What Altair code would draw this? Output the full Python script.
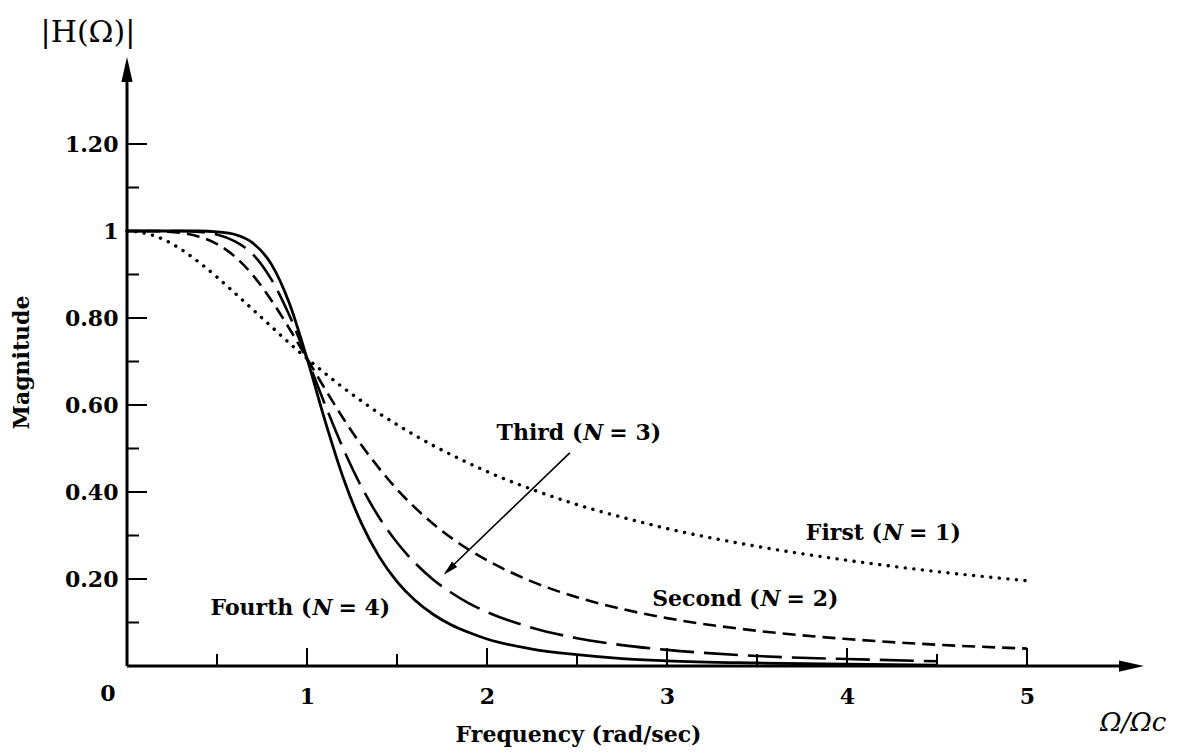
import altair as alt
import pandas as pd

# ---- data ----
freq = [0, 0.1, 0.2, 0.3, 0.4, 0.5, 0.6, 0.7, 0.8, 0.9, 1.0, 1.1, 1.2, 1.3, 1.4,
        1.5, 1.6, 1.7, 1.8, 1.9, 2.0, 2.25, 2.5, 2.75, 3.0, 3.5, 4.0, 4.5, 5.0]

mag_first = [1.000, 0.995, 0.981, 0.958, 0.928, 0.894, 0.857, 0.819, 0.781, 0.743, 0.707, 0.673, 0.640,
             0.610, 0.581, 0.555, 0.530, 0.507, 0.486, 0.466, 0.447, 0.406, 0.371, 0.342, 0.316, 0.275,
             0.243, 0.217, 0.196]
mag_second = [1.000, 1.000, 0.999, 0.996, 0.987, 0.970, 0.941, 0.898, 0.842, 0.777, 0.707, 0.637, 0.570,
              0.509, 0.455, 0.406, 0.364, 0.327, 0.295, 0.267, 0.243, 0.194, 0.158, 0.131, 0.110, 0.081,
              0.062, 0.049, 0.040]
mag_third = [1.000, 1.000, 1.000, 1.000, 0.998, 0.992, 0.976, 0.946, 0.890, 0.808, 0.707, 0.601, 0.501,
             0.414, 0.342, 0.284, 0.237, 0.199, 0.169, 0.144, 0.124, 0.088, 0.064, 0.048, 0.037, 0.023,
             0.016, 0.011]
mag_fourth = [1.000, 1.000, 1.000, 1.000, 1.000, 0.998, 0.992, 0.972, 0.925, 0.836, 0.707, 0.564, 0.434,
              0.330, 0.252, 0.194, 0.151, 0.119, 0.095, 0.077, 0.062, 0.039, 0.026, 0.017, 0.012, 0.007,
              0.004, 0.002]

x_label_values = [1, 2, 3, 4, 5]
y_label_values = [0.2, 0.4, 0.6, 0.8, 1.0, 1.2]
x_major_ticks = [1, 2, 3, 4, 5]
x_minor_ticks = [0.5, 1.5, 2.5, 3.5, 4.5]
y_major_ticks = [0.2, 0.4, 0.6, 0.8, 1.0, 1.2]
y_minor_ticks = [0.1, 0.3, 0.5, 0.7, 0.9, 1.1]

label_prefix = ["Third (", "First (", "Second (", "Fourth ("]
label_var = ["N", "N", "N", "N"]
label_suffix = ["= 3)", "= 1)", "= 2)", "= 4)"]
label_x = [2.535, 4.20, 3.52, 1.03]
label_y = [0.535, 0.306, 0.155, 0.133]

# ---- styling ----
SERIF = "DejaVu Serif"
FS = 22

xs = alt.Scale(domain=[0, 5.65], nice=False, zero=False)
ys = alt.Scale(domain=[0, 1.40], nice=False, zero=False)

xaxis = alt.Axis(values=x_label_values, domain=False, ticks=False, tickSize=0, grid=False,
                 labelFont=SERIF, labelFontSize=FS, labelFontWeight="bold", labelColor="black",
                 labelPadding=20, labelFlush=False, labelOverlap=False,
                 title="Frequency (rad/sec)", titleFont=SERIF, titleFontSize=FS,
                 titleFontWeight="bold", titleColor="black", titleX=451, titleY=75,
                 titleAlign="center", titleBaseline="alphabetic")
yaxis = alt.Axis(values=y_label_values, domain=False, ticks=False, tickSize=0, grid=False,
                 labelExpr="datum.value == 1 ? '1' : format(datum.value, '.2f')",
                 labelFont=SERIF, labelFontSize=FS, labelFontWeight="bold", labelColor="black",
                 labelPadding=9, labelFlush=False, labelOverlap=False,
                 title="Magnitude", titleFont=SERIF, titleFontSize=FS, titleFontWeight="bold",
                 titleColor="black", titleX=-106, titleY=305, titleAngle=270,
                 titleAlign="center", titleBaseline="middle")


def X(f="x"):
    return alt.X(f"{f}:Q", scale=xs, axis=xaxis)


def Y(f="y"):
    return alt.Y(f"{f}:Q", scale=ys, axis=yaxis)


layers = []


def curve(mags, **mk):
    df = pd.DataFrame({"x": freq[:len(mags)], "y": mags})
    return alt.Chart(df).mark_line(interpolate="monotone", color="black", **mk).encode(x=X(), y=Y())


layers.append(curve(mag_first, strokeDash=[0.1, 8.5], strokeCap="round", strokeWidth=3.4))
layers.append(curve(mag_second, strokeDash=[13, 7], strokeWidth=2.6))
layers.append(curve(mag_third, strokeDash=[34, 10], strokeWidth=2.6))
layers.append(curve(mag_fourth, strokeWidth=2.8))

# axis lines
layers.append(alt.Chart(pd.DataFrame({"x": [0], "y": [0], "y2": [1.36]}))
              .mark_rule(color="black", strokeWidth=3)
              .encode(x=X(), y=Y(), y2=alt.Y2("y2")))
layers.append(alt.Chart(pd.DataFrame({"x": [0], "x2": [5.52], "y": [0]}))
              .mark_rule(color="black", strokeWidth=3)
              .encode(x=X(), x2=alt.X2("x2"), y=Y()))

# inward ticks
layers.append(alt.Chart(pd.DataFrame({"x": [0] * len(y_major_ticks), "y": y_major_ticks}))
              .mark_tick(orient="horizontal", size=20, thickness=2, xOffset=10, color="black", opacity=1)
              .encode(x=X(), y=Y()))
layers.append(alt.Chart(pd.DataFrame({"x": [0] * len(y_minor_ticks), "y": y_minor_ticks}))
              .mark_tick(orient="horizontal", size=12, thickness=2, xOffset=6, color="black", opacity=1)
              .encode(x=X(), y=Y()))
layers.append(alt.Chart(pd.DataFrame({"x": x_major_ticks, "y": [0] * len(x_major_ticks)}))
              .mark_tick(orient="vertical", size=18, thickness=2, yOffset=-9, color="black", opacity=1)
              .encode(x=X(), y=Y()))
layers.append(alt.Chart(pd.DataFrame({"x": x_minor_ticks, "y": [0] * len(x_minor_ticks)}))
              .mark_tick(orient="vertical", size=12, thickness=2, yOffset=-6, color="black", opacity=1)
              .encode(x=X(), y=Y()))

# axis arrowheads
layers.append(alt.Chart(pd.DataFrame({"x": [0], "y": [1.40]}))
              .mark_point(shape="M0,0L0.45,2L-0.45,2Z", size=625, filled=True, color="black",
                          opacity=1, strokeWidth=0)
              .encode(x=X(), y=Y()))
layers.append(alt.Chart(pd.DataFrame({"x": [5.65], "y": [0]}))
              .mark_point(shape="M0,0L-2,0.45L-2,-0.45Z", size=625, filled=True, color="black",
                          opacity=1, strokeWidth=0)
              .encode(x=X(), y=Y()))

# annotation arrow for N = 3
layers.append(alt.Chart(pd.DataFrame({"x": [2.46], "y": [0.49], "x2": [1.77], "y2": [0.215]}))
              .mark_rule(color="black", strokeWidth=1.6)
              .encode(x=X(), y=Y(), x2=alt.X2("x2"), y2=alt.Y2("y2")))
layers.append(alt.Chart(pd.DataFrame({"x": [1.76], "y": [0.21]}))
              .mark_point(shape="M0,0L0.5,2L-0.5,2Z", size=225, filled=True, color="black",
                          opacity=1, strokeWidth=0, angle=226)
              .encode(x=X(), y=Y()))

# curve labels: "Name (" + italic N + "= k)"
lab = pd.DataFrame({"x": label_x, "y": label_y, "p": label_prefix, "n": label_var, "s": label_suffix})
txt = dict(font=SERIF, fontSize=FS, fontWeight="bold", color="black", baseline="middle")
layers.append(alt.Chart(lab).mark_text(align="right", dx=-1, **txt).encode(x=X(), y=Y(), text="p:N"))
layers.append(alt.Chart(lab).mark_text(align="left", dx=0, fontStyle="italic", **txt)
              .encode(x=X(), y=Y(), text="n:N"))
layers.append(alt.Chart(lab).mark_text(align="left", dx=26, **txt).encode(x=X(), y=Y(), text="s:N"))

# origin "0"
layers.append(alt.Chart(pd.DataFrame({"x": [0], "y": [0], "t": ["0"]}))
              .mark_text(font=SERIF, fontSize=FS, fontWeight="bold", color="black",
                         align="center", baseline="middle", dx=-19, dy=28)
              .encode(x=X(), y=Y(), text="t:N"))

# |H(Ω)| and Ω/Ωc
layers.append(alt.Chart(pd.DataFrame({"x": [-0.217], "y": [1.455], "t": ["|H(Ω)|"]}))
              .mark_text(font=SERIF, fontSize=30, color="black", align="center", baseline="middle")
              .encode(x=X(), y=Y(), text="t:N"))
layers.append(alt.Chart(pd.DataFrame({"x": [5.59], "y": [-0.13], "t": ["Ω/Ωc"]}))
              .mark_text(font=SERIF, fontSize=26, fontStyle="italic", color="black",
                         align="center", baseline="middle")
              .encode(x=X(), y=Y(), text="t:N"))

chart = (alt.layer(*layers)
         .properties(width=1017, height=609,
                     padding={"left": 119, "top": 49, "right": 24, "bottom": 81},
                     autosize=alt.AutoSizeParams(type="none"),
                     background="white")
         .configure_view(strokeWidth=0))

chart.save("out.html", embed_options={"renderer": "svg", "actions": False})
